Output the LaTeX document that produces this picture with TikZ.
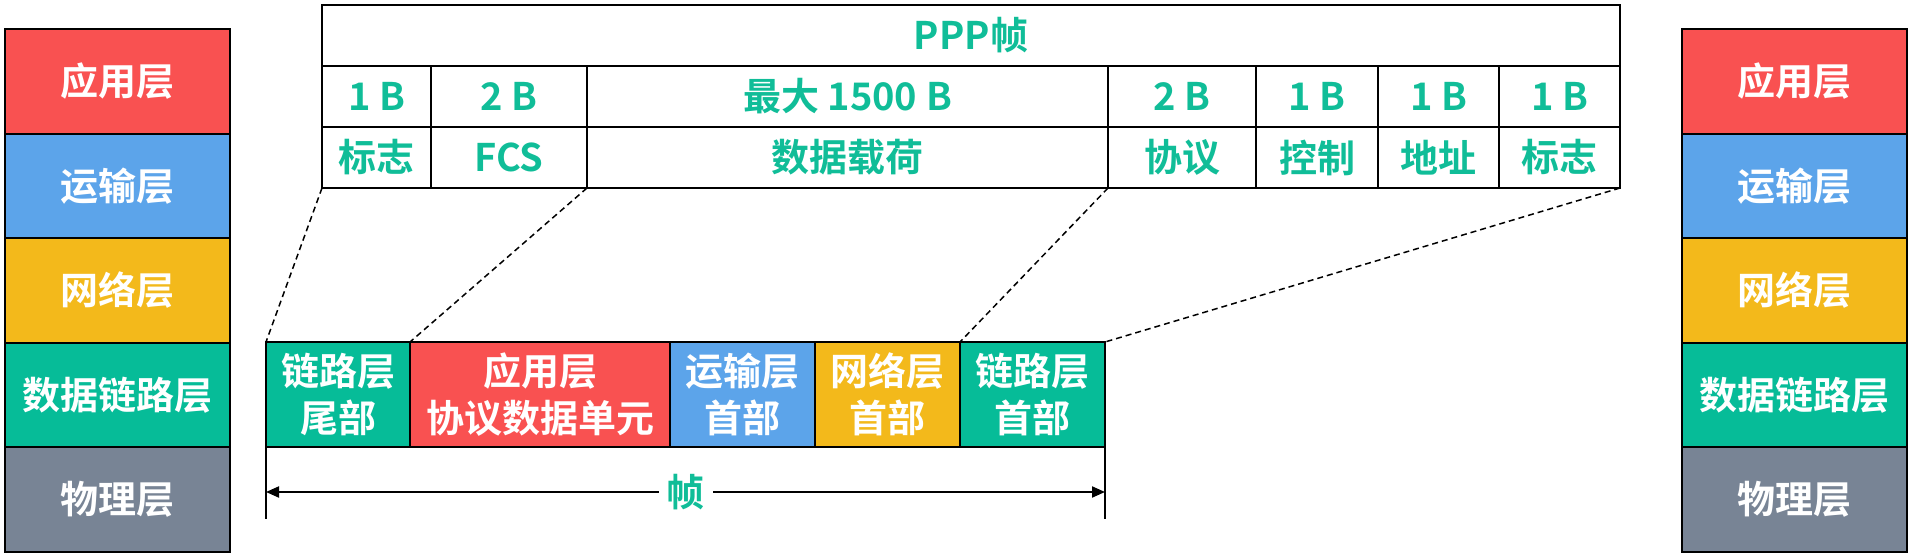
\documentclass[tikz,border=0pt]{standalone}
\usepackage{fontspec}
\setmainfont{Noto Sans CJK SC}[BoldFont={Noto Sans CJK SC Bold}]
\usetikzlibrary{arrows.meta}

\definecolor{appred}{HTML}{F95151}
\definecolor{tpblue}{HTML}{5CA4EA}
\definecolor{netyellow}{HTML}{F3B91B}
\definecolor{linkgreen}{HTML}{06BC98}
\definecolor{phygray}{HTML}{788495}
\definecolor{ppptext}{HTML}{10BD98}

\begin{document}
\begin{tikzpicture}[x=1pt,y=-1pt,
   bigfont/.style={font=\bfseries\fontsize{38pt}{47pt}\selectfont},
   layer/.style={bigfont,draw=black,line width=2pt,minimum width=225pt,minimum height=104.6pt,inner sep=0pt,outer sep=0pt,text=white},
   cell/.style={bigfont,draw=black,line width=1.5pt,minimum height=61pt,inner sep=0pt,outer sep=0pt,text=ppptext},
   hdr/.style={bigfont,draw=black,line width=2pt,minimum height=105pt,inner sep=0pt,outer sep=0pt,text=white,align=center},
   zoomline/.style={line width=1.5pt,dash pattern=on 6pt off 4pt}]
   \useasboundingbox (0,0) rectangle (1912,553);

   %% Schichten
   \foreach \lname/\lcol [count=\i] in {应用层/appred,运输层/tpblue,网络层/netyellow,数据链路层/linkgreen,物理层/phygray}{
      \node[layer,fill=\lcol] (lL\i) at (117.5,{29+104.6*(\i-0.5)}) {\lname};
      \node[layer,fill=\lcol] (lR\i) at (1794.5,{29+104.6*(\i-0.5)}) {\lname};
   }

   %% PPP-Rahmen
   \node[cell,minimum width=1298pt,anchor=north west] (ppp) at (322,5) {PPP帧};
   \foreach \xa/\xb/\sz/\fld [count=\j] in {322/431/1 B/标志,431/587/2 B/FCS,587/1108/最大 1500 B/数据载荷,1108/1256/2 B/协议,1256/1378/1 B/控制,1378/1499/1 B/地址,1499/1620/1 B/标志}{
      \node[cell,minimum width={\xb-\xa},anchor=north west] (sz\j) at (\xa,66) {\sz};
      \node[cell,minimum width={\xb-\xa},anchor=north west] (fld\j) at (\xa,127) {\fld};
   }

   %% Rahmen unten
   \foreach \xa/\xb/\ftxt/\fcol [count=\k] in {266/410/链路层\\尾部/linkgreen,410/670/应用层\\协议数据单元/appred,670/815/运输层\\首部/tpblue,815/960/网络层\\首部/netyellow,960/1105/链路层\\首部/linkgreen}{
      \node[hdr,fill=\fcol,minimum width={\xb-\xa},anchor=north west] (fr\k) at (\xa,342) {\ftxt};
   }

   %% Zuordnung
   \draw[zoomline] (fld1.south west) -- (fr1.north west);
   \draw[zoomline] (fld2.south east) -- (fr2.north west);
   \draw[zoomline] (fld4.south west) -- (fr5.north west);
   \draw[zoomline] (fld7.south east) -- (fr5.north east);

   %% Laenge
   \coordinate (tL) at (266,519);
   \coordinate (tR) at (1105,519);
   \coordinate (aL) at (266,492);
   \coordinate (aR) at (1105,492);
   \draw[line width=1.5pt] (fr1.south west) -- (tL);
   \draw[line width=1.5pt] (fr5.south east) -- (tR);
   \draw[line width=2pt,{Triangle[length=13pt,width=11pt]}-{Triangle[length=13pt,width=11pt]}] (aL) -- node[bigfont,fill=white,text=ppptext,inner sep=8pt] (frm) {帧} (aR);
\end{tikzpicture}
\end{document}
